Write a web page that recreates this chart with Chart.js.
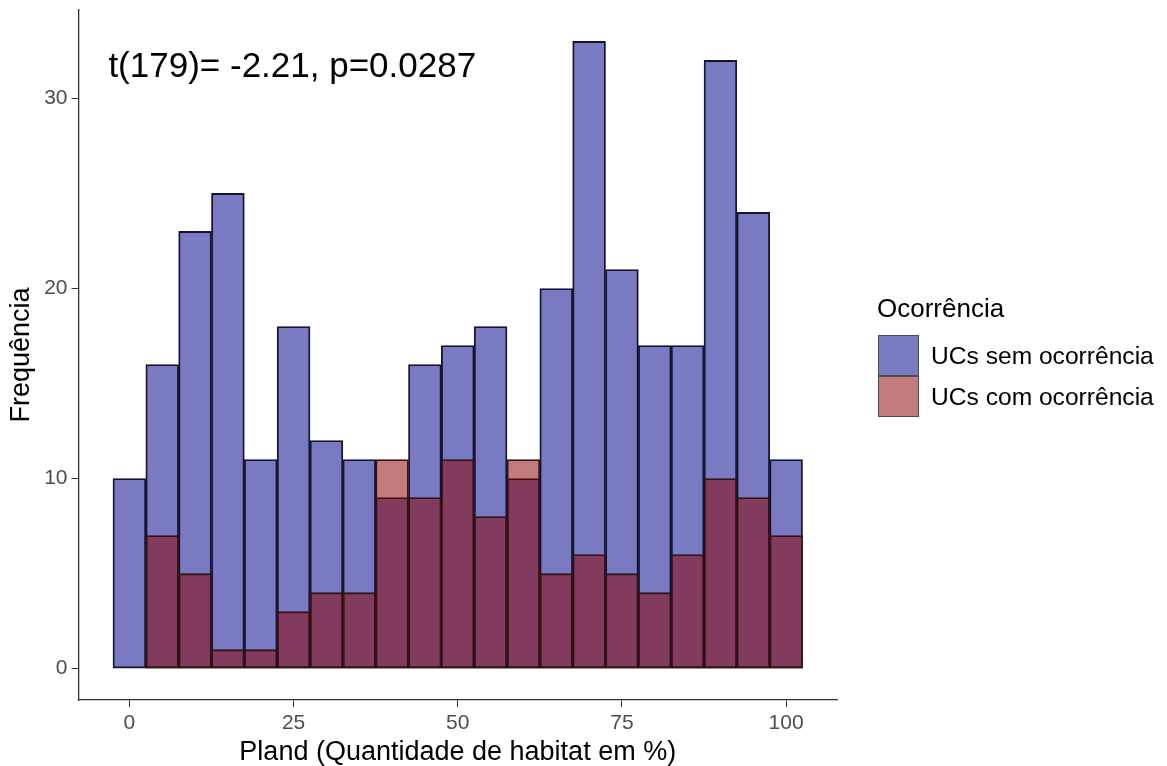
<!DOCTYPE html>
<html>
<head>
<meta charset="utf-8">
<script src="https://cdn.jsdelivr.net/npm/chart.js@4.4.1/dist/chart.umd.min.js"></script>
<style>
  html, body { margin: 0; padding: 0; background: #fff; }
  #wrap { position: relative; width: 1167px; height: 766px; font-family: "Liberation Sans", Arial, sans-serif; }
  #chart { position: absolute; left: 0; top: 0; }
  .leg-title { position: absolute; left: 877px; top: 293px; font-size: 26px; line-height: 30px; color: #000; }
  .leg-key { position: absolute; left: 878px; width: 39px; height: 39px; border: 1.5px solid #4d4d4d; }
  .leg-lab { position: absolute; left: 931px; height: 41px; line-height: 41px; font-size: 24.6px; color: #000; white-space: nowrap; }
</style>
</head>
<body>
<div id="wrap">
  <canvas id="chart" width="1167" height="766"></canvas>
  <div id="legend"></div>
</div>
<script>
// histogram counts per 5-point bin of Pland
const binCenters = [0, 5, 10, 15, 20, 25, 30, 35, 40, 45, 50, 55, 60, 65, 70, 75, 80, 85, 90, 95, 100];
const semOcorrencia = [10, 16, 23, 25, 11, 18, 12, 11, 9, 16, 17, 18, 10, 20, 33, 21, 17, 17, 32, 24, 11];
const comOcorrencia = [0, 7, 5, 1, 1, 3, 4, 4, 11, 9, 11, 8, 11, 5, 6, 5, 4, 6, 10, 9, 7];
const xTicks = [0, 25, 50, 75, 100];
const yTicks = [0, 10, 20, 30];
const seriesNames = ["UCs sem ocorrência", "UCs com ocorrência"];
const legendTitle = "Ocorrência";
const statText = "t(179)= -2.21, p=0.0287";

const BLUE = "rgba(0, 0, 139, 0.52)";
const RED = "rgba(139, 0, 0, 0.52)";
const FONT = '"Liberation Sans", Arial, sans-serif';

Chart.defaults.font.family = FONT;

const pts = (vals) => binCenters.map((x, i) => ({ x, y: vals[i] }));

// stat annotation, anchored in data units
const annotate = {
  id: "annotate",
  afterDraw(chart) {
    const { ctx, scales: { x, y } } = chart;
    ctx.save();
    ctx.font = `35px ${FONT}`;
    ctx.fillStyle = "#000";
    ctx.textBaseline = "alphabetic";
    ctx.fillText(statText, x.getPixelForValue(-3.2), y.getPixelForValue(31.15));
    ctx.restore();
  },
};

const axisCommon = {
  offset: false,
  grid: { display: true, drawOnChartArea: false, drawTicks: true, tickLength: 7, color: "#333", lineWidth: 1, offset: false },
  border: { display: true, color: "#333", width: 1.3 },
};

new Chart(document.getElementById("chart"), {
  type: "bar",
  data: {
    datasets: [
      { label: seriesNames[0], data: pts(semOcorrencia), backgroundColor: BLUE, order: 1 },
      { label: seriesNames[1], data: pts(comOcorrencia), backgroundColor: RED, order: 0 },
    ],
  },
  options: {
    responsive: false,
    animation: false,
    events: [],
    layout: { padding: { left: 0, right: 330, top: 10, bottom: 0 } },
    datasets: {
      bar: {
        grouped: false, barPercentage: 1, categoryPercentage: 1,
        borderColor: "#1a1a1a", borderWidth: 1.2, borderSkipped: false,
      },
    },
    plugins: { legend: { display: false }, tooltip: { enabled: false } },
    scales: {
      x: {
        ...axisCommon,
        type: "linear", min: -7.75, max: 107.75,
        afterBuildTicks: (s) => { s.ticks = xTicks.map((value) => ({ value })); },
        afterFit: (s) => { s.height = 66; s.paddingLeft = 0; s.paddingRight = 0; },
        ticks: { color: "#4d4d4d", font: { size: 21 }, padding: 4, maxRotation: 0, autoSkip: false },
        title: { display: true, text: "Pland (Quantidade de habitat em %)", color: "#000",
          font: { size: 27, lineHeight: 1 }, padding: { top: 0, bottom: 0 } },
      },
      y: {
        ...axisCommon,
        type: "linear", min: -1.65, max: 34.65,
        afterBuildTicks: (s) => { s.ticks = yTicks.map((value) => ({ value })); },
        afterFit: (s) => { s.width = 78.5; s.paddingTop = 0; s.paddingBottom = 0; },
        ticks: { color: "#4d4d4d", font: { size: 21 }, padding: 4 },
        title: { display: true, text: "Frequência", color: "#000",
          font: { size: 27, lineHeight: 1 }, padding: { top: 8, bottom: 0 } },
      },
    },
  },
  plugins: [annotate],
});

// legend (ggplot style, right side)
const legend = document.getElementById("legend");
let html = `<div class="leg-title">${legendTitle}</div>`;
[BLUE, RED].forEach((c, i) => {
  const top = 335 + i * 41;
  html += `<div class="leg-key" style="top:${top}px;background:${c}"></div>`;
  html += `<div class="leg-lab" style="top:${top}px">${seriesNames[i]}</div>`;
});
legend.innerHTML = html;
</script>
</body>
</html>
